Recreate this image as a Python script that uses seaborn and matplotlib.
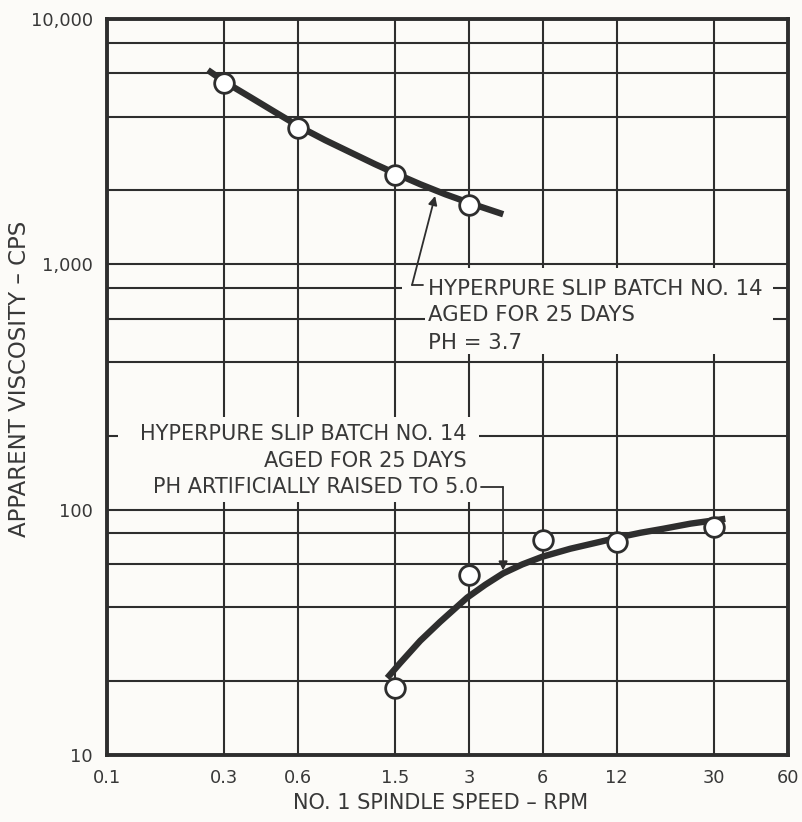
import matplotlib
matplotlib.use("Agg")
import matplotlib.pyplot as plt
from matplotlib.patches import Rectangle
from matplotlib.ticker import FixedLocator, NullLocator, NullFormatter
import seaborn as sns
import pandas as pd

# ---------------- data ----------------
# pH = 3.7 series
speed_ph37 = [0.3, 0.6, 1.5, 3]
visc_ph37 = [5480, 3590, 2310, 1740]
curve_speed_ph37 = [0.258, 0.303, 0.384, 0.485, 0.614, 0.776, 0.981, 1.241,
                    1.526, 1.895, 2.397, 3.119, 4.134]
curve_visc_ph37 = [6190, 5534, 4804, 4173, 3625, 3208, 2865, 2559,
                   2330, 2121, 1931, 1757, 1600]

# pH raised to 5.0 series
speed_ph50 = [1.5, 3, 6, 12, 30]
visc_ph50 = [18.8, 54.3, 75.5, 74.0, 84.6]
curve_speed_ph50 = [1.39, 1.57, 1.895, 2.286, 2.946, 3.49, 4.13, 4.94, 5.97,
                    7.76, 10.3, 12.07, 15.0, 18.6, 24.0, 33.3]
curve_visc_ph50 = [20.6, 23.7, 29.2, 34.9, 43.8, 49.4, 55.0, 59.8, 64.3,
                   69.3, 74.0, 76.9, 80.5, 83.6, 87.7, 91.8]

x_ticks = [0.1, 0.3, 0.6, 1.5, 3, 6, 12, 30, 60]
x_tick_labels = ["0.1", "0.3", "0.6", "1.5", "3", "6", "12", "30", "60"]
y_ticks = [10, 100, 1000, 10000]
y_tick_labels = ["10", "100", "1,000", "10,000"]
y_minor = [20, 40, 60, 80, 200, 400, 600, 800, 2000, 4000, 6000, 8000]

label_top = ["HYPERPURE SLIP BATCH NO. 14", "AGED FOR 25 DAYS", "PH = 3.7"]
label_bottom = ["HYPERPURE SLIP BATCH NO. 14", "AGED FOR 25 DAYS",
                "PH ARTIFICIALLY RAISED TO 5.0"]
x_title = "NO. 1 SPINDLE SPEED \u2013 RPM"
y_title = "APPARENT VISCOSITY \u2013 CPS"

# ---------------- style ----------------
sns.set_style("white")
plt.rcParams["font.family"] = ["DejaVu Sans"]
BG = "#fcfbf8"
INK = "#2e2e2e"
TXT = "#383838"

fig = plt.figure(figsize=(8.03, 8.22), dpi=100, facecolor=BG)
ax = fig.add_axes([107 / 803, 67 / 822, 681 / 803, 736 / 822])
ax.set_facecolor(BG)
ax.set_xscale("log")
ax.set_yscale("log")

c37 = pd.DataFrame({"speed": curve_speed_ph37, "visc": curve_visc_ph37})
c50 = pd.DataFrame({"speed": curve_speed_ph50, "visc": curve_visc_ph50})
p37 = pd.DataFrame({"speed": speed_ph37, "visc": visc_ph37})
p50 = pd.DataFrame({"speed": speed_ph50, "visc": visc_ph50})

for c in (c37, c50):
    sns.lineplot(data=c, x="speed", y="visc", ax=ax, sort=False, estimator=None,
                 color=INK, lw=4.6, solid_joinstyle="round",
                 solid_capstyle="butt", zorder=3)
for p in (p37, p50):
    sns.scatterplot(data=p, x="speed", y="visc", ax=ax, s=200, color="white",
                    edgecolor=INK, linewidth=2.0, zorder=4)

ax.set_xlim(0.1, 60)
ax.set_ylim(10, 10000)
ax.set_xticks(x_ticks)
ax.set_xticklabels(x_tick_labels)
ax.xaxis.set_minor_locator(NullLocator())
ax.set_yticks(y_ticks)
ax.set_yticklabels(y_tick_labels)
ax.yaxis.set_minor_locator(FixedLocator(y_minor))
ax.yaxis.set_minor_formatter(NullFormatter())
ax.tick_params(which="both", length=0, labelsize=12.8, colors=TXT, pad=10)

ax.set_axisbelow(True)
ax.grid(which="major", axis="x", color=INK, lw=1.5)
ax.grid(which="both", axis="y", color=INK, lw=1.5)
for s in ax.spines.values():
    s.set_color(INK)
    s.set_linewidth(2.8)

ax.set_xlabel(x_title, fontsize=15, color=TXT)
ax.set_ylabel(y_title, fontsize=16.5, color=TXT)
ax.xaxis.set_label_coords(0.49, -0.052)
ax.yaxis.set_label_coords(-0.112, 0.511)


def fx(px):
    return (px - 107) / 681


def fy(py):
    return (755 - py) / 736


# white cut-outs behind the annotations
for (x0, x1, y0, y1) in [(425, 773, 268, 354), (402, 425, 280, 297),
                         (118, 479, 417, 502)]:
    ax.add_patch(Rectangle((fx(x0), fy(y1)), fx(x1) - fx(x0), fy(y0) - fy(y1),
                           transform=ax.transAxes, facecolor=BG,
                           edgecolor="none", zorder=1))

# upper annotation
for txt, base in zip(label_top, [295, 321, 349]):
    ax.text(fx(428), fy(base), txt, transform=ax.transAxes, ha="left",
            va="baseline", fontsize=15.3, color=TXT, zorder=5)
ax.plot([fx(412), fx(423)], [fy(285), fy(285)], transform=ax.transAxes,
        color=INK, lw=1.3, zorder=5)
ax.annotate("", xy=(2.18, 1900), xycoords="data",
            xytext=(fx(412), fy(285)), textcoords="axes fraction",
            arrowprops=dict(arrowstyle="-|>", color=INK, lw=1.3,
                            mutation_scale=13, shrinkA=0, shrinkB=0),
            zorder=5)

# lower annotation
for txt, base, right in zip(label_bottom, [440, 467, 493], [467, 467, 478]):
    ax.text(fx(right), fy(base), txt, transform=ax.transAxes, ha="right",
            va="baseline", fontsize=15, color=TXT, zorder=5)
ax.plot([fx(481), fx(503)], [fy(487), fy(487)], transform=ax.transAxes,
        color=INK, lw=1.3, zorder=5)
ax.annotate("", xy=(4.13, 56.5), xycoords="data",
            xytext=(fx(503), fy(487)), textcoords="axes fraction",
            arrowprops=dict(arrowstyle="-|>", color=INK, lw=1.3,
                            mutation_scale=13, shrinkA=0, shrinkB=0),
            zorder=5)

fig.savefig("out.png", dpi=100, facecolor=BG)
